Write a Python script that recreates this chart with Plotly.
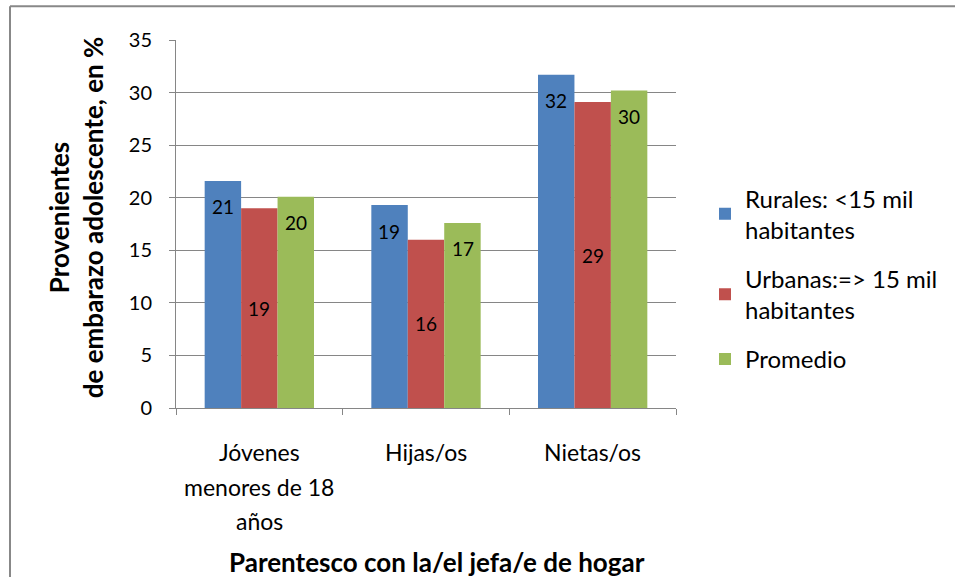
import plotly.graph_objects as go

# categories (one line per "\n") and series
categories = ["Jóvenes\nmenores de 18\naños", "Hijas/os", "Nietas/os"]
rurales = [21.6, 19.3, 31.7]
urbanas = [19.0, 16.0, 29.1]
promedio = [20.1, 17.6, 30.2]
# labels as printed on the bars
rurales_lbl = [21, 19, 32]
urbanas_lbl = [19, 16, 29]
promedio_lbl = [20, 17, 30]
y_ticks = [0, 5, 10, 15, 20, 25, 30, 35]

FONT = "Lato"
cats = [c.replace("\n", " ") for c in categories]

BARGAP = 0.344
PLOT_W = 503
bar_px = PLOT_W / len(cats) * (1 - BARGAP) / 3

fig = go.Figure()

series = [
    ("Rurales: <15 mil<br>habitantes", rurales, rurales_lbl, "#4F81BD", "end"),
    ("Urbanas:=> 15 mil<br>habitantes", urbanas, urbanas_lbl, "#C0504D", "middle"),
    ("Promedio", promedio, promedio_lbl, "#9BBB59", "end"),
]
for i, (name, vals, lbls, color, pos) in enumerate(series):
    fig.add_trace(go.Bar(
        x=cats, y=vals, name=name,
        marker=dict(color=color, line=dict(width=0)),
        legendgroup=str(i),
    ))
    # data labels: inside end (with margin) or centred, like the source chart
    for c, v, lb in zip(cats, vals, lbls):
        fig.add_annotation(
            x=c, xref="x", xshift=(i - 1) * bar_px,
            y=v if pos == "end" else v / 2, yref="y",
            yanchor="middle", yshift=-26 if pos == "end" else 0,
            text=str(lb), showarrow=False,
            font=dict(family=FONT, size=19, color="black"),
        )

# category labels drawn line by line (wide line spacing as in the reference)
for c_label, c in zip(cats, categories):
    for j, line in enumerate(c.split("\n")):
        fig.add_annotation(
            x=c_label, xref="x", y=0, yref="paper",
            yanchor="middle", yshift=-44 - 34.5 * j,
            text=line, showarrow=False,
            font=dict(family=FONT, size=23, color="black"),
        )

# axis titles
fig.add_annotation(
    x=0.5, xref="paper", xshift=11, y=0, yref="paper", yshift=-154,
    yanchor="middle",
    text="<b>Parentesco con la/el jefa/e de hogar</b>", showarrow=False,
    font=dict(family=FONT, size=26, color="black"),
)
fig.add_annotation(
    x=-0.201, xref="paper", xanchor="center", y=0.517, yref="paper",
    yanchor="middle", textangle=-90,
    text="<b>Provenientes<br>de embarazo adolescente, en %</b>", showarrow=False,
    font=dict(family=FONT, size=26, color="black"),
)

# outer chart frame (only left and top edges are inside the picture)
frame = dict(color="#888888", width=2)
fig.add_shape(type="line", xref="paper", yref="paper",
              x0=-0.332, x1=-0.332, y0=-0.47, y1=1.092, line=frame)
fig.add_shape(type="line", xref="paper", yref="paper",
              x0=-0.332, x1=1.56, y0=1.092, y1=1.092, line=frame)

fig.update_layout(
    width=955, height=577,
    margin=dict(l=176, r=276, t=40, b=169),
    paper_bgcolor="white", plot_bgcolor="white",
    barmode="group", bargap=BARGAP, bargroupgap=0,
    font=dict(family=FONT, size=20, color="black"),
    showlegend=True,
    legend=dict(
        x=1.058, y=0.63, xanchor="left", yanchor="top",
        font=dict(family=FONT, size=24, color="black"),
        tracegroupgap=15, bgcolor="rgba(0,0,0,0)",
    ),
)
fig.update_xaxes(
    showline=True, linecolor="#868686", linewidth=1,
    ticks="outside", tickson="boundaries", ticklen=6, tickcolor="#868686",
    showticklabels=False, showgrid=False,
)
fig.update_yaxes(
    range=[0, 35], tickvals=y_ticks,
    showline=True, linecolor="#868686", linewidth=1,
    ticks="outside", ticklen=6, tickcolor="#868686",
    showgrid=True, gridcolor="#868686", gridwidth=1,
    tickfont=dict(family=FONT, size=20, color="black"),
    ticklabelstandoff=13, zeroline=False,
)

fig.write_html(
    "out.html", config={"displayModeBar": False},
    post_script="document.body.style.margin='0';"
                "document.body.style.overflow='hidden';",
)
